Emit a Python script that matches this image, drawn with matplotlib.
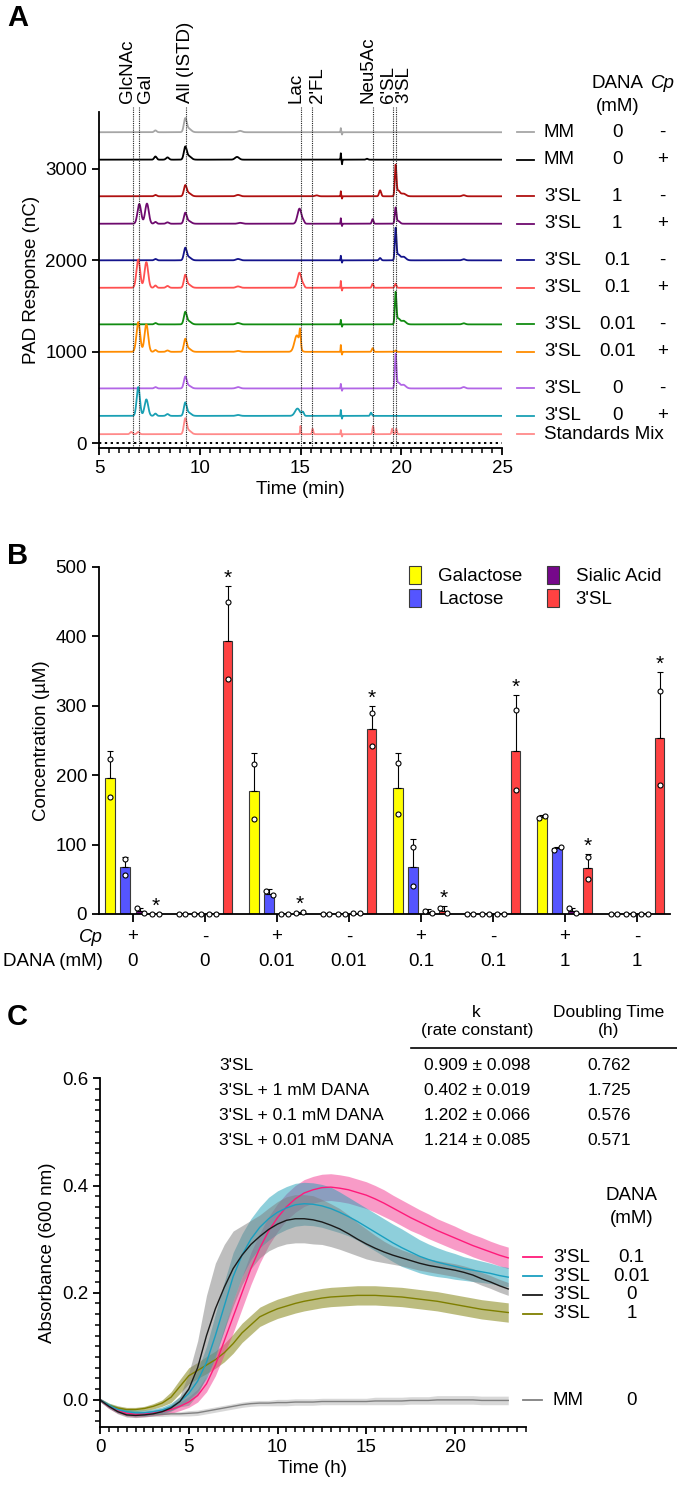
import numpy as np
import matplotlib.pyplot as plt
from matplotlib.patches import Patch
from matplotlib.ticker import MultipleLocator

plt.rcParams['font.family'] = ['Liberation Sans', 'DejaVu Sans']
plt.rcParams['font.size'] = 13.5
plt.rcParams['axes.linewidth'] = 1.3
for ax_name in ['xtick', 'ytick']:
    plt.rcParams[ax_name + '.major.size'] = 5
    plt.rcParams[ax_name + '.major.width'] = 1.3
    plt.rcParams[ax_name + '.minor.size'] = 3.5
    plt.rcParams[ax_name + '.minor.width'] = 1.1
    plt.rcParams[ax_name + '.labelsize'] = 13.5

W, H = 677, 1487

# ---------------- panel A : chromatograms ----------------
trace_sample = ['MM', 'MM', "3'SL", "3'SL", "3'SL", "3'SL", "3'SL", "3'SL", "3'SL", "3'SL", 'Standards Mix']
trace_dana = ['0', '0', '1', '1', '0.1', '0.1', '0.01', '0.01', '0', '0', '']
trace_cp = ['-', '+', '-', '+', '-', '+', '-', '+', '-', '+', '']
trace_offset = [3400, 3100, 2700, 2400, 2000, 1700, 1300, 1000, 600, 300, 100]
trace_colors = ['#a6a6a6', '#000000', '#b01010', '#6e0a6e', '#14148c', '#ff5050',
                '#128c12', '#ff8c00', '#b266e6', '#1aa0b4', '#ff8a8a']
# peak tables: (retention time min, height nC, width min)
trace_peaks = [
    [(7.8, 20, 0.06), (9.28, 140, 0.07), (9.45, 40, 0.12), (12.0, 15, 0.1), (17.0, 45, 0.012), (17.06, -25, 0.012)],
    [(7.8, 35, 0.06), (8.4, 25, 0.07), (9.28, 130, 0.07), (9.45, 40, 0.12), (11.85, 30, 0.1),
     (17.0, 70, 0.012), (17.06, -50, 0.012), (18.3, 10, 0.05)],
    [(7.8, 15, 0.06), (9.28, 110, 0.07), (9.45, 35, 0.12), (11.9, 15, 0.1), (15.8, 10, 0.08), (17.0, 55, 0.012),
     (17.06, -25, 0.012), (18.95, 65, 0.05), (19.72, 330, 0.04), (19.85, 60, 0.08), (20.1, 30, 0.12), (23.1, 12, 0.08)],
    [(7.0, 215, 0.09), (7.38, 220, 0.09), (7.8, 20, 0.06), (8.4, 15, 0.07), (9.28, 110, 0.07), (9.45, 30, 0.12),
     (12.0, 10, 0.1), (14.95, 165, 0.1), (15.15, 20, 0.05), (17.0, 60, 0.012), (17.06, -25, 0.012),
     (18.58, 50, 0.04), (19.72, 170, 0.04), (19.85, 30, 0.08)],
    [(7.8, 15, 0.06), (9.28, 125, 0.07), (9.45, 35, 0.12), (11.9, 15, 0.1), (17.0, 50, 0.012), (17.06, -25, 0.012),
     (18.95, 25, 0.05), (19.72, 340, 0.04), (19.85, 60, 0.08), (20.1, 40, 0.12), (23.1, 12, 0.08)],
    [(6.95, 310, 0.09), (7.35, 280, 0.09), (7.8, 25, 0.06), (8.4, 20, 0.07), (9.28, 130, 0.07), (9.45, 35, 0.12),
     (11.9, 15, 0.1), (14.95, 165, 0.1), (15.15, 20, 0.05), (17.0, 75, 0.012), (17.06, -30, 0.012),
     (18.58, 45, 0.04), (19.72, 45, 0.04)],
    [(7.8, 15, 0.06), (9.28, 125, 0.07), (9.45, 35, 0.12), (11.9, 15, 0.1), (17.0, 50, 0.012), (17.06, -25, 0.012),
     (19.72, 340, 0.04), (19.85, 60, 0.08), (20.1, 40, 0.12), (23.1, 12, 0.08)],
    [(6.95, 325, 0.09), (7.35, 300, 0.09), (7.8, 20, 0.06), (8.4, 15, 0.07), (9.28, 130, 0.07), (9.45, 35, 0.12),
     (11.9, 10, 0.1), (14.82, 180, 0.12), (14.98, 180, 0.035), (17.0, 75, 0.012), (17.06, -30, 0.012),
     (18.58, 40, 0.04), (19.72, 15, 0.04)],
    [(7.8, 15, 0.06), (9.28, 120, 0.07), (9.45, 30, 0.12), (11.9, 15, 0.1), (17.0, 50, 0.012), (17.06, -25, 0.012),
     (19.72, 365, 0.04), (19.85, 60, 0.08), (20.1, 40, 0.12), (23.1, 15, 0.08)],
    [(6.95, 315, 0.08), (7.35, 180, 0.09), (7.8, 25, 0.06), (8.4, 20, 0.07), (9.28, 135, 0.07), (9.45, 35, 0.12),
     (11.9, 10, 0.1), (14.85, 80, 0.12), (15.12, 40, 0.05), (17.0, 65, 0.012), (17.06, -30, 0.012),
     (18.5, 35, 0.04)],
    [(6.6, 25, 0.06), (6.95, 25, 0.06), (9.28, 160, 0.07), (9.45, 40, 0.12), (15.0, 90, 0.02), (15.6, 60, 0.03),
     (17.0, 45, 0.012), (17.06, -25, 0.012), (18.6, 90, 0.03), (19.55, 60, 0.03), (19.75, 60, 0.03)],
]
std_names = ['GlcNAc', 'Gal', 'All (ISTD)', 'Lac', "2'FL", 'Neu5Ac', "6'SL", "3'SL"]
std_rt = [6.67, 6.97, 9.30, 15.04, 15.59, 18.58, 19.59, 19.74]
std_label_x = [6.42, 7.32, 9.30, 14.78, 15.82, 18.35, 19.39, 20.14]

# ---------------- panel B : bars ----------------
group_cp = ['+', '-', '+', '-', '+', '-', '+', '-']
group_dana = ['0', '0', '0.01', '0.01', '0.1', '0.1', '1', '1']
analytes = ['Galactose', 'Lactose', 'Sialic Acid', "3'SL"]
gal_mean = [196, 0, 177, 0, 181, 0, 140, 0]
gal_sd = [39, 0, 55, 0, 51, 0, 2, 0]
gal_pts = [(223, 168), (0, 0), (216, 137), (0, 0), (217, 144), (0, 0), (138, 141), (0, 0)]
lac_mean = [67, 0, 29, 0, 68, 0, 95, 0]
lac_sd = [15, 0, 7, 0, 40, 0, 2, 0]
lac_pts = [(79, 56), (0, 0), (33, 27), (0, 0), (96, 40), (0, 0), (92, 97), (0, 0)]
sia_mean = [5, 0, 0, 1, 3, 0, 4, 0]
sia_sd = [3, 0, 0, 0, 4, 0, 4, 0]
sia_pts = [(8, 2), (0, 0), (0, 0), (2, 1), (5, 1), (0, 0), (8, 1), (0, 0)]
sl_mean = [0, 393, 2, 266, 5, 235, 66, 253]
sl_sd = [0, 79, 1, 34, 7, 80, 21, 96]
sl_pts = [(0, 0), (449, 338), (1, 3), (290, 242), (8, 1), (293, 179), (82, 50), (321, 186)]
sl_star = [True, True, True, True, True, True, True, True]
bar_colors = ['#ffff00', '#5555ff', '#76088a', '#ff4242']

# ---------------- panel C : growth curves ----------------
hours = np.arange(0, 23.01, 0.5)
curve_names = ["3'SL", "3'SL", "3'SL", "3'SL", 'MM']
curve_dana = ['0.1', '0.01', '0', '1', '0']
od_pink = [0.0, -0.012, -0.02, -0.025, -0.027, -0.026, -0.024, -0.022, -0.018, -0.012, -0.004, 0.008,
           0.03, 0.065, 0.11, 0.155, 0.2, 0.245, 0.283, 0.315, 0.34, 0.36, 0.375, 0.386, 0.392, 0.396,
           0.397, 0.395, 0.392, 0.387, 0.382, 0.375, 0.367, 0.358, 0.349, 0.34, 0.332, 0.324, 0.316,
           0.309, 0.302, 0.295, 0.288, 0.282, 0.276, 0.27, 0.265]
sd_pink = [0.003, 0.004, 0.005, 0.005, 0.005, 0.005, 0.005, 0.006, 0.007, 0.008, 0.01, 0.012, 0.015,
           0.02, 0.025, 0.03, 0.03, 0.03, 0.028, 0.027, 0.026, 0.025, 0.025, 0.025, 0.025, 0.025, 0.025,
           0.025, 0.025, 0.025, 0.025, 0.025, 0.025, 0.024, 0.024, 0.024, 0.023, 0.023, 0.022, 0.022,
           0.022, 0.021, 0.021, 0.021, 0.02, 0.02, 0.02]
od_cyan = [0.0, -0.01, -0.018, -0.022, -0.024, -0.024, -0.022, -0.019, -0.013, -0.003, 0.012, 0.035,
           0.07, 0.12, 0.175, 0.23, 0.27, 0.3, 0.322, 0.338, 0.35, 0.358, 0.364, 0.366, 0.365, 0.362,
           0.357, 0.35, 0.342, 0.333, 0.323, 0.313, 0.303, 0.293, 0.284, 0.276, 0.268, 0.262, 0.257,
           0.253, 0.249, 0.245, 0.242, 0.239, 0.236, 0.232, 0.229]
sd_cyan = [0.003, 0.004, 0.005, 0.005, 0.005, 0.005, 0.005, 0.006, 0.007, 0.009, 0.012, 0.02, 0.03,
           0.04, 0.045, 0.045, 0.04, 0.038, 0.038, 0.04, 0.04, 0.04, 0.04, 0.04, 0.04, 0.04, 0.04, 0.038,
           0.036, 0.035, 0.035, 0.035, 0.035, 0.035, 0.035, 0.033, 0.031, 0.029, 0.027, 0.025, 0.024,
           0.022, 0.021, 0.02, 0.019, 0.018, 0.018]
od_black = [0.0, -0.012, -0.022, -0.028, -0.029, -0.028, -0.026, -0.022, -0.015, -0.003, 0.02, 0.06,
            0.12, 0.17, 0.21, 0.245, 0.27, 0.29, 0.305, 0.318, 0.328, 0.335, 0.338, 0.338, 0.336, 0.332,
            0.326, 0.319, 0.31, 0.3, 0.291, 0.283, 0.276, 0.27, 0.265, 0.26, 0.255, 0.251, 0.248, 0.245,
            0.242, 0.238, 0.233, 0.226, 0.22, 0.213, 0.207]
sd_black = [0.003, 0.004, 0.004, 0.004, 0.004, 0.004, 0.004, 0.005, 0.006, 0.01, 0.03, 0.05, 0.075,
            0.085, 0.08, 0.07, 0.055, 0.045, 0.04, 0.04, 0.042, 0.044, 0.045, 0.045, 0.045, 0.042, 0.04,
            0.038, 0.035, 0.031, 0.028, 0.024, 0.02, 0.017, 0.015, 0.014, 0.013, 0.012, 0.012, 0.012,
            0.012, 0.012, 0.012, 0.012, 0.012, 0.012, 0.012]
od_olive = [0.0, -0.01, -0.015, -0.018, -0.018, -0.016, -0.012, -0.006, 0.005, 0.025, 0.045, 0.055,
            0.065, 0.075, 0.088, 0.105, 0.125, 0.14, 0.155, 0.163, 0.17, 0.175, 0.18, 0.184, 0.187, 0.19,
            0.192, 0.193, 0.194, 0.195, 0.195, 0.195, 0.194, 0.193, 0.192, 0.19, 0.188, 0.186, 0.184,
            0.181, 0.178, 0.175, 0.172, 0.169, 0.167, 0.165, 0.163]
sd_olive = [0.003, 0.004, 0.004, 0.004, 0.004, 0.004, 0.005, 0.006, 0.01, 0.013, 0.015, 0.015, 0.016,
            0.016, 0.017, 0.018, 0.018, 0.018, 0.018, 0.018, 0.018, 0.018, 0.018, 0.018, 0.018, 0.018,
            0.018, 0.018, 0.018, 0.018, 0.018, 0.018, 0.018, 0.018, 0.018, 0.018, 0.018, 0.018, 0.018,
            0.018, 0.018, 0.018, 0.018, 0.018, 0.018, 0.018, 0.018]
od_mm = [0.0, -0.012, -0.02, -0.025, -0.027, -0.027, -0.027, -0.027, -0.026, -0.026, -0.025, -0.024,
         -0.021, -0.018, -0.015, -0.012, -0.009, -0.007, -0.006, -0.006, -0.005, -0.005, -0.004, -0.004,
         -0.004, -0.003, -0.003, -0.003, -0.003, -0.003, -0.003, -0.002, -0.002, -0.002, -0.002, -0.001,
         -0.001, -0.001, 0.0, 0.0, 0.0, 0.0, 0.0, -0.001, -0.001, -0.001, -0.001]
sd_mm = [0.003, 0.004, 0.004, 0.004, 0.004, 0.004, 0.004, 0.004, 0.004, 0.004, 0.005, 0.005, 0.005,
         0.005, 0.005, 0.005, 0.005, 0.005, 0.005, 0.005, 0.006, 0.006, 0.006, 0.006, 0.006, 0.006,
         0.006, 0.006, 0.006, 0.006, 0.006, 0.007, 0.007, 0.007, 0.007, 0.007, 0.007, 0.007, 0.008,
         0.008, 0.008, 0.008, 0.008, 0.008, 0.008, 0.008, 0.008]
curve_line = ['#ff1a7a', '#1a9fc0', '#1a1a1a', '#7f7f00', '#808080']
curve_band = ['#f33991', '#1fa1b9', '#7f7f7f', '#7b7b00', '#b3b3b3']

tbl_rows = ["3'SL", "3'SL + 1 mM DANA", "3'SL + 0.1 mM DANA", "3'SL + 0.01 mM DANA"]
tbl_k = ['0.909 \u00b1 0.098', '0.402 \u00b1 0.019', '1.202 \u00b1 0.066', '1.214 \u00b1 0.085']
tbl_dt = ['0.762', '1.725', '0.576', '0.571']


def fx(px):
    return px / W


def fy(py):
    return 1 - py / H


fig = plt.figure(figsize=(W / 100, H / 100), dpi=100)

# ======== A ========
ax_a = fig.add_axes([fx(99), fy(448), fx(502 - 99), (448 - 112) / H])
t = np.linspace(5, 25, 4001)
for i in range(len(trace_offset)):
    y = np.full_like(t, trace_offset[i], dtype=float)
    for rt, h, w in trace_peaks[i]:
        y += h * np.exp(-(t - rt) ** 2 / (2 * w ** 2))
    ax_a.plot(t, y, color=trace_colors[i], lw=1.3)
    yo = trace_offset[i]
    ax_a.plot([25.73, 26.6], [yo, yo], color=trace_colors[i], lw=1.3, clip_on=False)
    ax_a.text(27.08, yo, trace_sample[i], va='center', ha='left')
    ax_a.text(30.72, yo, trace_dana[i], va='center', ha='center')
    ax_a.text(32.97, yo, trace_cp[i], va='center', ha='center')
ax_a.text(30.72, 3934, 'DANA', ha='center', va='center')
ax_a.text(30.72, 3679, '(mM)', ha='center', va='center')
ax_a.text(32.97, 3934, 'Cp', ha='center', va='center', style='italic')
ax_a.plot([5, 25], [0, 0], color='k', lw=1.4, ls=(0, (1.2, 1.8)))
ax_a.vlines(std_rt, -51, 3680, colors='#222222', lw=0.8, linestyles=(0, (1, 1)), clip_on=False)
for name, lx in zip(std_names, std_label_x):
    ax_a.text(lx, 3720, name, rotation=90, ha='center', va='bottom')
ax_a.set_xlim(5, 25)
ax_a.set_ylim(-51, 3621)
ax_a.set_xticks([5, 10, 15, 20, 25])
ax_a.xaxis.set_minor_locator(MultipleLocator(0.5))
ax_a.set_yticks([0, 1000, 2000, 3000])
ax_a.spines['top'].set_visible(False)
ax_a.spines['right'].set_visible(False)
ax_a.set_xlabel('Time (min)', labelpad=3)
ax_a.set_ylabel('PAD Response (nC)', labelpad=4)

# ======== B ========
ax_b = fig.add_axes([fx(99), fy(914), fx(670 - 99), (914 - 566.7) / H])
groups = np.arange(len(group_cp))
offsets = [-0.315, -0.105, 0.105, 0.315]
means = [gal_mean, lac_mean, sia_mean, sl_mean]
sds = [gal_sd, lac_sd, sia_sd, sl_sd]
pts = [gal_pts, lac_pts, sia_pts, sl_pts]
for j in range(4):
    xs = groups + offsets[j]
    ax_b.bar(xs, means[j], width=0.135, color=bar_colors[j], edgecolor='#3a3a3a', lw=0.8, zorder=2)
    for g in groups:
        m, s = means[j][g], sds[j][g]
        if s > 0:
            ax_b.errorbar(xs[g], m, yerr=[[0], [s]], fmt='none', ecolor='k', elinewidth=0.8,
                          capsize=2.5, capthick=0.8, zorder=3)
        p1, p2 = pts[j][g]
        dx = 0.045 if abs(p1 - p2) < 10 else 0.0
        ax_b.plot([xs[g] - dx, xs[g] + dx], [p1, p2], 'o', ms=3.6, mfc='white', mec='k',
                  mew=0.8, zorder=4, clip_on=False)
        if j == 3 and sl_star[g]:
            ax_b.text(xs[g], m + s + 3, '*', ha='center', va='baseline', fontsize=15)
ax_b.set_xlim(-0.47, 7.46)
ax_b.set_ylim(0, 500)
ax_b.set_yticks([0, 100, 200, 300, 400, 500])
ax_b.set_xticks(groups)
ax_b.set_xticklabels([])
ax_b.tick_params(axis='x', length=6)
ax_b.spines['top'].set_visible(False)
ax_b.spines['right'].set_visible(False)
ax_b.set_ylabel('Concentration (\u00b5M)', labelpad=4)
trans = ax_b.get_xaxis_transform()
for g in groups:
    ax_b.text(g, -0.066, group_cp[g], transform=trans, ha='center', va='center')
    ax_b.text(g, -0.137, group_dana[g], transform=trans, ha='center', va='center')
fig.text(fx(103), fy(937), 'Cp', ha='right', va='center', style='italic')
fig.text(fx(103), fy(961.7), 'DANA (mM)', ha='right', va='center')
handles = [Patch(facecolor=c, edgecolor='#3a3a3a', lw=0.8) for c in bar_colors]
ax_b.legend([handles[0], handles[1], handles[2], handles[3]],
            [analytes[0], analytes[1], analytes[2], analytes[3]],
            ncol=2, loc='upper left', bbox_to_anchor=(fx(409), fy(566)),
            bbox_transform=fig.transFigure, frameon=False, handlelength=0.65, handleheight=1.1,
            handletextpad=0.9, columnspacing=1.3, labelspacing=0.2, borderpad=0, borderaxespad=0)

# ======== C ========
ax_c = fig.add_axes([fx(100), fy(1426.7), fx(426), (1426.7 - 1078.3) / H])
curves = [(od_olive, sd_olive, 3), (od_mm, sd_mm, 4), (od_pink, sd_pink, 0),
          (od_cyan, sd_cyan, 1), (od_black, sd_black, 2)]
for od, sd, k in curves:
    od = np.array(od)
    sd = np.array(sd)
    ax_c.fill_between(hours, od - sd, od + sd, color=curve_band[k], alpha=0.5, lw=0)
for od, sd, k in curves:
    ax_c.plot(hours, od, color=curve_line[k], lw=1.0)
legend_y = [0.266, 0.231, 0.196, 0.161, -0.001]
for k in range(5):
    ax_c.plot([23.81, 24.88], [legend_y[k]] * 2, color=curve_line[k], lw=1.3, clip_on=False)
    ax_c.text(25.52, legend_y[k], curve_names[k], ha='left', va='center')
    ax_c.text(29.95, legend_y[k], curve_dana[k], ha='center', va='center')
ax_c.text(29.95, 0.382, 'DANA', ha='center', va='center')
ax_c.text(29.95, 0.338, '(mM)', ha='center', va='center')
ax_c.set_xlim(0, 24)
ax_c.set_ylim(-0.05, 0.6)
ax_c.set_xticks([0, 5, 10, 15, 20])
ax_c.xaxis.set_minor_locator(MultipleLocator(0.5))
ax_c.set_yticks([0.0, 0.2, 0.4, 0.6])
ax_c.yaxis.set_minor_locator(MultipleLocator(0.02))
ax_c.spines['top'].set_visible(False)
ax_c.spines['right'].set_visible(False)
ax_c.set_xlabel('Time (h)', labelpad=3)
ax_c.set_ylabel('Absorbance (600 nm)', labelpad=4)

# growth table
fig.text(fx(476.7), fy(1012.7), 'k', ha='center', va='center', fontsize=12.5)
fig.text(fx(476.7), fy(1031), '(rate constant)', ha='center', va='center', fontsize=12.5)
fig.text(fx(609), fy(1012.7), 'Doubling Time', ha='center', va='center', fontsize=12.5)
fig.text(fx(609), fy(1031), '(h)', ha='center', va='center', fontsize=12.5)
fig.add_artist(plt.Line2D([fx(411), fx(677)], [fy(1047.7), fy(1047.7)], color='k', lw=1.2))
row_y = [1065.7, 1090.7, 1115.7, 1140.7]
for r in range(len(tbl_rows)):
    fig.text(fx(219), fy(row_y[r]), tbl_rows[r], ha='left', va='center', fontsize=12.5)
    fig.text(fx(476.7), fy(row_y[r]), tbl_k[r], ha='center', va='center', fontsize=12.5)
    fig.text(fx(609), fy(row_y[r]), tbl_dt[r], ha='center', va='center', fontsize=12.5)

# panel letters
fig.text(fx(7), fy(18), 'A', fontsize=21, fontweight='bold', va='center', ha='left')
fig.text(fx(7), fy(556), 'B', fontsize=21, fontweight='bold', va='center', ha='left')
fig.text(fx(7), fy(1017), 'C', fontsize=21, fontweight='bold', va='center', ha='left')

fig.savefig('out.png', dpi=100)
